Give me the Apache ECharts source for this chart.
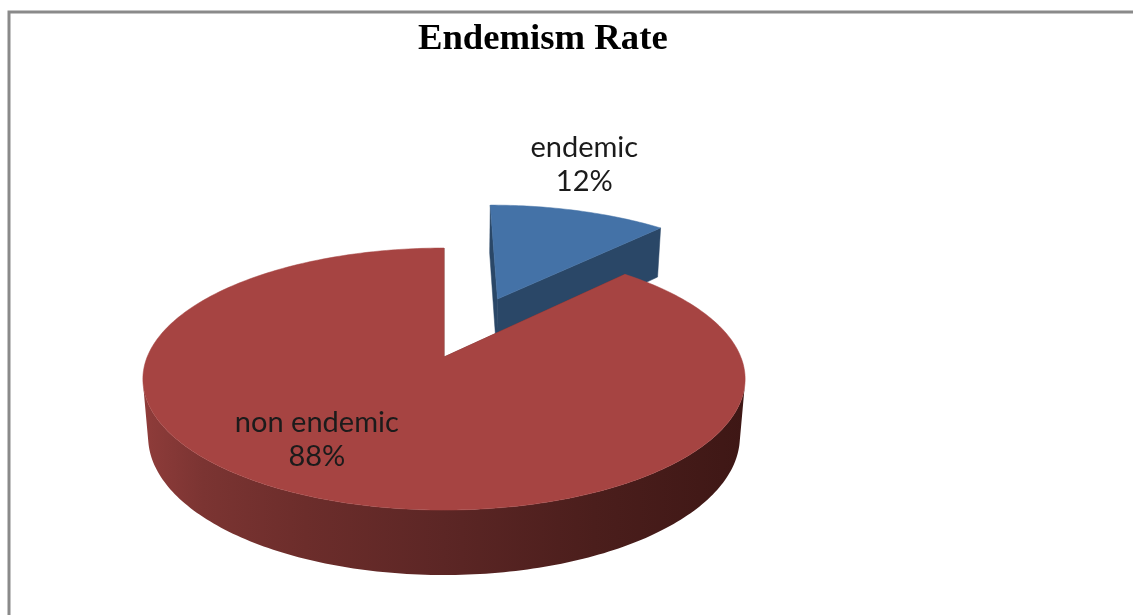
<!DOCTYPE html>
<html>
<head>
<meta charset="utf-8">
<script src="https://cdn.jsdelivr.net/npm/echarts@6/dist/echarts.min.js"></script>
<style>
html,body{margin:0;padding:0;background:#fff;}
#chart{width:1133px;height:615px;}
</style>
</head>
<body>
<div id="chart"></div>
<script>
// ---- data ----
const categories = ['endemic', 'non endemic'];
const values = [12, 88];
const chartTitle = 'Endemism Rate';

// ---- styles (kept separate from data) ----
const topColors = ['#4472A7', '#A64442'];
const faceColors = ['#2A4767', '#6A2C2A'];
const sideStops = [
  [['#3A5E8C', 0], ['#1E3350', 1]],
  [['#8F3C3A', 0], ['#7B3432', 0.1], ['#6C2D2B', 0.27], ['#5C2625', 0.5], ['#4B1E1C', 0.75], ['#3E1715', 1]]
];
const explodeDist = [0.53, 0];
const labelPlace = [{ r: 1.59, dt: -5.6 }, { r: 0.70, dt: 11.9 }];

// perspective view of the 3D disc
const VIEW = { cx: 444, cy: 357, f: 1594, D: 5.37, tilt: 25.4, h: 0.2155 };
const S = Math.sin(VIEW.tilt * Math.PI / 180), C = Math.cos(VIEW.tilt * Math.PI / 180);
function proj(X, Y, Z) {
  const v = Y * S + Z * C, w = Y * C - Z * S;
  const k = VIEW.f / (VIEW.D + w);
  return [VIEW.cx + X * k, VIEW.cy - v * k];
}
const cam = [0, -VIEW.D * C, VIEW.D * S];
const rad = d => d * Math.PI / 180;

const total = values.reduce((a, b) => a + b, 0);
const starts = [];
(function () { let acc = 0; values.forEach(v => { starts.push(acc / total * 360); acc += v; }); })();

function renderItem(params, api) {
  const i = params.dataIndex;
  const val = api.value(1);
  const t0 = starts[i], t1 = t0 + val / total * 360;
  const tm = (t0 + t1) / 2;
  const ox = explodeDist[i] * Math.sin(rad(tm)), oy = explodeDist[i] * Math.cos(rad(tm));
  const h = VIEW.h;
  const children = [];
  const pt = (t, z) => proj(ox + Math.sin(rad(t)), oy + Math.cos(rad(t)), z);

  // radial faces
  [t0, t1].forEach(t => {
    children.push({
      type: 'polygon',
      shape: { points: [proj(ox, oy, 0), pt(t, 0), pt(t, -h), proj(ox, oy, -h)] },
      style: { fill: faceColors[i], stroke: faceColors[i], lineWidth: 0.5 }
    });
  });

  // outer side (visible runs)
  const N = Math.max(2, Math.ceil((t1 - t0)));
  let run = [];
  const runs = [];
  for (let k = 0; k <= N; k++) {
    const t = t0 + (t1 - t0) * k / N;
    const px = ox + Math.sin(rad(t)), py = oy + Math.cos(rad(t));
    const nx = Math.sin(rad(t)), ny = Math.cos(rad(t));
    const vis = (cam[0] - px) * nx + (cam[1] - py) * ny > -0.05;
    if (vis) run.push(t); else if (run.length) { runs.push(run); run = []; }
  }
  if (run.length) runs.push(run);
  runs.forEach(r => {
    if (r.length < 2) return;
    const topPts = r.map(t => pt(t, 0));
    const botPts = r.map(t => pt(t, -h)).reverse();
    const pts = topPts.concat(botPts);
    let minX = Infinity, maxX = -Infinity;
    pts.forEach(p => { minX = Math.min(minX, p[0]); maxX = Math.max(maxX, p[0]); });
    children.push({
      type: 'polygon',
      shape: { points: pts },
      style: {
        fill: {
          type: 'linear', x: minX, y: 0, x2: maxX, y2: 0, global: true,
          colorStops: sideStops[i].map(s => ({ offset: s[1], color: s[0] }))
        }
      }
    });
  });

  // top face
  const topFace = [proj(ox, oy, 0)];
  for (let k = 0; k <= N; k++) topFace.push(pt(t0 + (t1 - t0) * k / N, 0));
  children.push({
    type: 'polygon',
    shape: { points: topFace },
    style: { fill: topColors[i], stroke: topColors[i], lineWidth: 0.5 }
  });

  // label
  const lp = labelPlace[i];
  const lt = tm + lp.dt;
  const lpos = proj(ox + lp.r * Math.sin(rad(lt)), oy + lp.r * Math.cos(rad(lt)), 0);
  children.push({
    type: 'text',
    x: lpos[0], y: lpos[1], z2: 10,
    style: {
      text: categories[i] + '\n' + Math.round(val / total * 100) + '%',
      fill: '#1b1b1b',
      fontFamily: 'Lato',
      fontSize: 29,
      lineHeight: 34,
      align: 'center',
      verticalAlign: 'middle'
    }
  });

  return { type: 'group', children };
}

const chart = echarts.init(document.getElementById('chart'), null, { renderer: 'canvas' });
chart.setOption({
  backgroundColor: '#ffffff',
  animation: false,
  title: {
    text: chartTitle,
    left: 413,
    top: 16,
    textStyle: { fontFamily: 'Liberation Serif', fontWeight: 'bold', fontSize: 36.7, color: '#000' }
  },
  graphic: [{
    type: 'rect',
    shape: { x: 9, y: 12, width: 1300, height: 800 },
    style: { fill: null, stroke: '#8a8a8a', lineWidth: 3 },
    z: 100
  }],
  series: [{
    type: 'custom',
    coordinateSystem: 'none',
    renderItem: renderItem,
    data: values.map((v, i) => [i, v])
  }]
});
</script>
</body>
</html>
